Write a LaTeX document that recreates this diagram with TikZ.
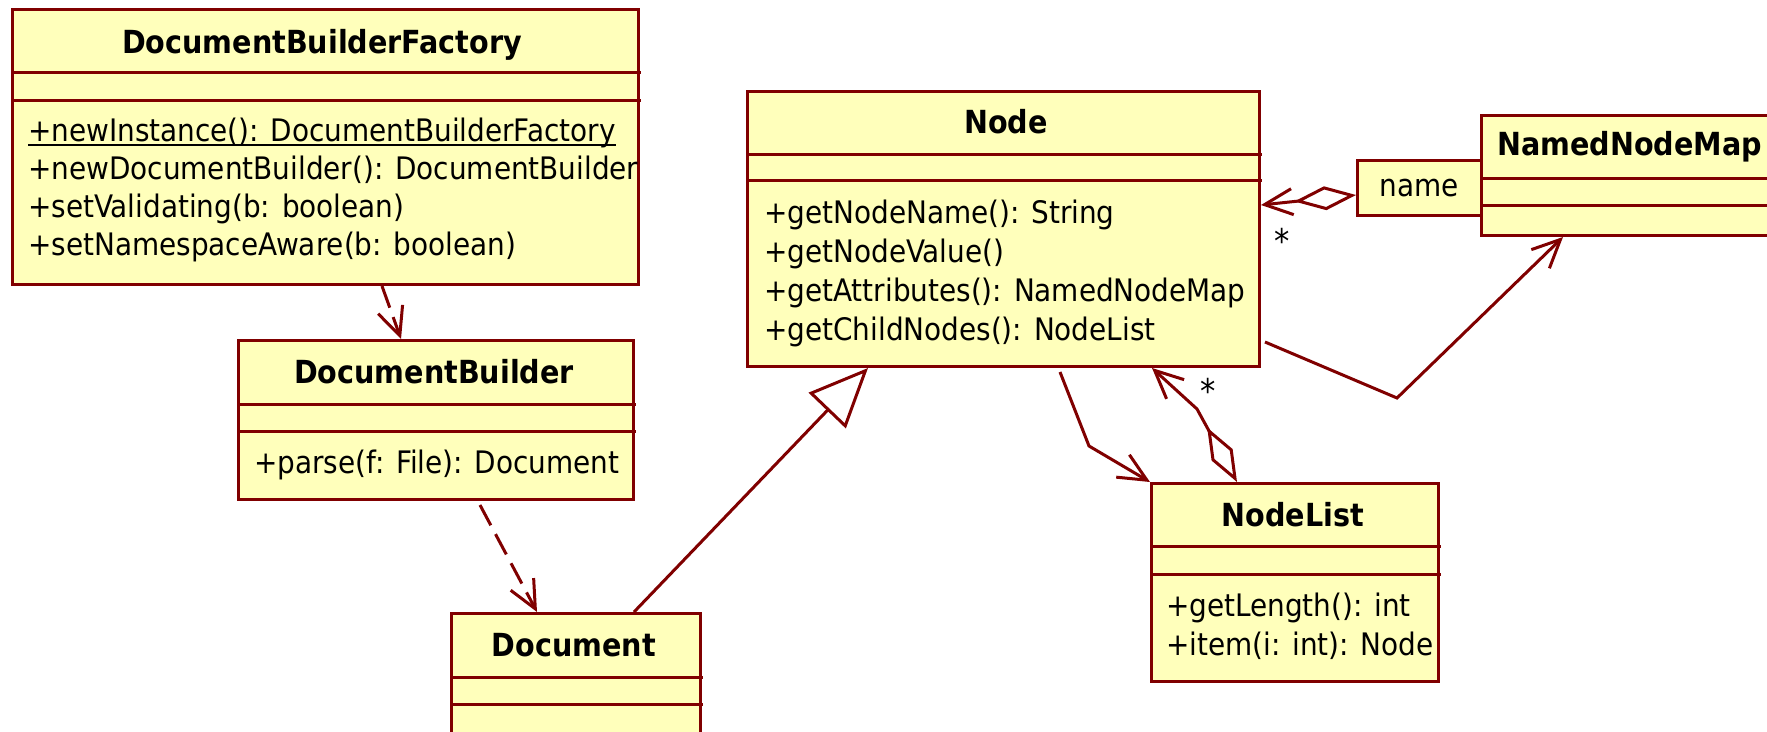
\documentclass[tikz,border=0pt]{standalone}
\usepackage{fontspec}
\setmainfont{DejaVu Sans Condensed}
\usetikzlibrary{arrows.meta}
\definecolor{umlred}{RGB}{128,0,0}
\definecolor{umlfill}{RGB}{255,255,187}
\begin{document}
\begin{tikzpicture}[x=1pt,y=-1pt,
  classbox/.style={draw=umlred, fill=umlfill, line width=3pt, rectangle, inner sep=0pt, anchor=north west},
  sepline/.style={draw=umlred, line width=3pt},
  mtxt/.style={inner sep=0pt, anchor=base west, font=\fontsize{31}{38}\selectfont},
  ttxt/.style={inner sep=0pt, anchor=base, font=\fontsize{31.8}{38}\selectfont\bfseries},
  conn/.style={draw=umlred, line width=3pt, line join=miter},
  barb/.style={-{Straight Barb[length=28pt,width=26pt]}},
  depend/.style={conn, dash pattern=on 23pt off 10pt, barb},
  assoc/.style={conn, barb},
  aggr/.style={conn, {Diamond[open,length=62pt,width=24pt]}-{Straight Barb[length=28pt,width=26pt]}},
  gener/.style={conn, -{Triangle[open,length=59pt,width=51pt]}}
]
\path[use as bounding box, clip] (0,0) rectangle (1767,731);
\fill[white] (0,0) rectangle (1767,731);

% DocumentBuilderFactory
\node[classbox, minimum width=626pt, minimum height=275pt] (dbf) at (11,8) {};
\draw[sepline] (11,72) -- (641,72);
\draw[sepline] (11,100) -- (641,100);
\node[ttxt] (dbft) at (322,53) {DocumentBuilderFactory};
\node[mtxt] (dbf1) at (28,141) {+newInstance(): DocumentBuilderFactory};
\draw[black, line width=2pt] ([yshift=-4pt]dbf1.base west) -- ([yshift=-4pt]dbf1.base east);
\begin{scope}
\clip (11,8) rectangle (637,283);
\node[mtxt] (dbf2) at (28,179) {+newDocumentBuilder(): DocumentBuilder};
\end{scope}
\node[mtxt] (dbf3) at (28,217) {+setValidating(b: boolean)};
\node[mtxt] (dbf4) at (28,255) {+setNamespaceAware(b: boolean)};

% DocumentBuilder
\node[classbox, minimum width=395pt, minimum height=159pt] (db) at (237,339) {};
\draw[sepline] (237,404) -- (636,404);
\draw[sepline] (237,431) -- (636,431);
\node[ttxt] (dbt) at (434,383) {DocumentBuilder};
\node[mtxt] (db1) at (254,473) {+parse(f: File): Document};

% Document
\node[classbox, minimum width=249pt, minimum height=160pt] (doc) at (450,612) {};
\draw[sepline] (450,677) -- (703,677);
\draw[sepline] (450,704) -- (703,704);
\node[ttxt] (doct) at (574,656) {Document};

% Node
\node[classbox, minimum width=512pt, minimum height=275pt] (node) at (746,90) {};
\draw[sepline] (746,154) -- (1262,154);
\draw[sepline] (746,180) -- (1262,180);
\node[ttxt] (nodet) at (1006,133) {Node};
\node[mtxt] (node1) at (764,223) {+getNodeName(): String};
\node[mtxt] (node2) at (764,262) {+getNodeValue()};
\node[mtxt] (node3) at (764,301) {+getAttributes(): NamedNodeMap};
\node[mtxt] (node4) at (764,340) {+getChildNodes(): NodeList};

% NamedNodeMap
\node[classbox, minimum width=320pt, minimum height=120pt] (nnm) at (1480,114) {};
\draw[sepline] (1480,178) -- (1800,178);
\draw[sepline] (1480,205) -- (1800,205);
\node[ttxt, anchor=base west] (nnmt) at (1497,155) {NamedNodeMap};

% qualifier
\node[classbox, minimum width=124pt, minimum height=55pt, font=\fontsize{31}{38}\selectfont] (qual) at (1356,159) {name};

% NodeList
\node[classbox, minimum width=287pt, minimum height=198pt] (nl) at (1150,482) {};
\draw[sepline] (1150,546) -- (1441,546);
\draw[sepline] (1150,574) -- (1441,574);
\node[ttxt] (nlt) at (1293,526) {NodeList};
\node[mtxt] (nl1) at (1166,616) {+getLength(): int};
\node[mtxt] (nl2) at (1166,655) {+item(i: int): Node};

% connectors
\draw[depend] ([xshift=371pt]dbf.south west) -- ([xshift=164pt]db.north west);
\draw[depend] ([xshift=243pt,yshift=-4pt]db.south west) -- ([xshift=87pt]doc.north west);
\draw[gener] ([xshift=184pt]doc.north west) -- ([xshift=122pt]node.south west);
\coordinate (b1) at (1089,446);
\draw[assoc] ([xshift=314pt,yshift=-4pt]node.south west) -- (b1) -- (nl.north west);
\coordinate (b2) at (1197,409);
\draw[aggr] ([xshift=87pt]nl.north west) -- (b2) -- ([xshift=406pt]node.south west);
\coordinate (b3) at (1397,398);
\draw[assoc] ([xshift=4pt,yshift=26pt]node.south east) -- (b3) -- ([xshift=83pt]nnm.south west);
\draw[aggr] ([yshift=-7pt]qual.west) -- ([yshift=24pt]node.east);

% multiplicities
\node[mtxt, anchor=base, font=\fontsize{34}{38}\selectfont] (m1) at (1282,253) {*};
\node[mtxt, anchor=base, font=\fontsize{34}{38}\selectfont] (m2) at (1208,403) {*};
\end{tikzpicture}
\end{document}
